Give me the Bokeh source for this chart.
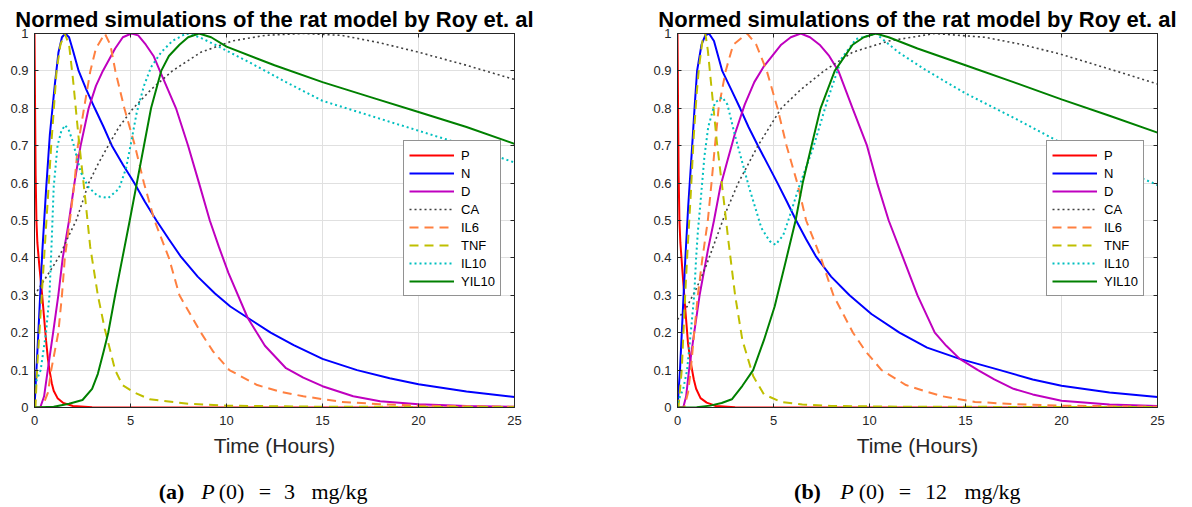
from bokeh.plotting import figure
from bokeh.models import Range1d, FixedTicker, LinearAxis, Legend, LegendItem
from bokeh.layouts import column, row
from bokeh.embed import file_html
from bokeh.resources import INLINE
from bokeh.core.properties import value

TITLE = "Normed simulations of the rat model by Roy et. al"
XLABEL = "Time (Hours)"
SERIES = ["P", "N", "D", "CA", "IL6", "TNF", "IL10", "YIL10"]
X_TICKS = [0, 5, 10, 15, 20, 25]
Y_TICKS = [0, 0.1, 0.2, 0.3, 0.4, 0.5, 0.6, 0.7, 0.8, 0.9, 1]
Y_TICK_LABELS = ["0", "0.1", "0.2", "0.3", "0.4", "0.5", "0.6", "0.7", "0.8", "0.9", "1"]

# ---------- panel (a): P(0) = 3 mg/kg ----------
a_p_t = [0, 0.03, 0.06, 0.1, 0.15, 0.25, 0.4, 0.5, 0.6, 0.7, 0.78, 0.9, 1.0, 1.2, 1.5, 2.0, 3.0, 5.0, 25]
a_p_v = [1, 0.8, 0.62, 0.5, 0.44, 0.38, 0.3, 0.24, 0.18, 0.13, 0.1, 0.065, 0.045, 0.025, 0.012, 0.004, 0.001, 0.0, 0.0]

a_n_t = [0, 0.2, 0.41, 0.6, 0.8, 1.06, 1.25, 1.43, 1.6, 1.8, 2.0, 2.3, 2.7, 3.14, 3.6, 4.03, 4.6, 5.2, 5.75, 6.35,
         7.0, 7.6, 8.5, 9.4, 10.2, 11.1, 12.3, 13.5, 15, 16.8, 18.5, 20, 22.5, 25]
a_n_v = [0, 0.2, 0.42, 0.58, 0.73, 0.864, 0.95, 0.99, 1.0, 0.99, 0.955, 0.9, 0.85, 0.8, 0.75, 0.7, 0.65, 0.6, 0.55, 0.5,
         0.45, 0.405, 0.35, 0.305, 0.27, 0.24, 0.2, 0.167, 0.13, 0.1, 0.078, 0.062, 0.043, 0.028]

a_d_t = [0, 0.3, 0.5, 0.69, 0.97, 1.24, 1.47, 1.8, 2.08, 2.4, 2.82, 3.2, 3.56, 4.2, 4.6, 5.05, 5.4, 5.8, 6.2, 6.53,
         7.37, 8.0, 8.57, 9.13, 9.6, 10.1, 11.1, 12.0, 13.1, 14.0, 15, 16.6, 18, 20, 22.5, 25]
a_d_v = [0, 0, 0.03, 0.1, 0.2, 0.3, 0.4, 0.5, 0.6, 0.7, 0.8, 0.86, 0.9, 0.96, 0.99, 1.0, 0.995, 0.97, 0.94, 0.9,
         0.8, 0.7, 0.6, 0.5, 0.43, 0.36, 0.24, 0.165, 0.105, 0.08, 0.057, 0.03, 0.017, 0.009, 0.004, 0.002]

a_ca_t = [0, 0.25, 0.5, 1.0, 1.35, 1.7, 2.17, 2.5, 2.82, 3.3, 3.84, 4.4, 5.14, 6.07, 7.18, 8.67, 10.3, 12, 14, 16, 18, 20, 22.5, 25]
a_ca_v = [0.3, 0.32, 0.34, 0.38, 0.41, 0.45, 0.5, 0.55, 0.6, 0.65, 0.7, 0.75, 0.8, 0.85, 0.9, 0.95, 0.98, 0.995, 1.0, 0.995, 0.975, 0.95, 0.915, 0.877]

a_il6_t = [0, 0.4, 0.7, 0.87, 1.24, 1.43, 1.58, 1.84, 2.08, 2.26, 2.58, 2.91, 3.2, 3.66, 3.95, 4.21, 4.68, 5.23, 5.7, 6.25,
           7.0, 7.55, 8.67, 9.3, 10.15, 11.6, 12.8, 14, 16, 18, 20, 25]
a_il6_v = [0, 0, 0.04, 0.1, 0.2, 0.3, 0.4, 0.5, 0.6, 0.7, 0.8, 0.9, 0.96, 1.0, 0.97, 0.9, 0.8, 0.7, 0.6, 0.5,
           0.4, 0.3, 0.2, 0.15, 0.1, 0.06, 0.042, 0.03, 0.015, 0.009, 0.005, 0.002]

a_tnf_t = [0, 0.05, 0.13, 0.5, 0.87, 1.15, 1.35, 1.58, 1.8, 2.0, 2.3, 2.64, 2.9, 3.3, 3.66, 4.2, 4.58, 5.2, 6.0, 8, 10, 15, 25]
a_tnf_v = [0, 0, 0.1, 0.4, 0.7, 0.9, 0.97, 1.0, 0.97, 0.88, 0.72, 0.56, 0.43, 0.3, 0.21, 0.1, 0.06, 0.04, 0.022, 0.01, 0.005, 0.002, 0.001]

a_il10_t = [0, 0.32, 0.6, 0.78, 0.9, 1.0, 1.2, 1.4, 1.6, 1.8, 2.0, 2.4, 2.8, 3.3, 3.84, 4.4, 4.77, 5.0, 5.33, 5.7,
            6.07, 6.6, 7.18, 7.9, 8.6, 9.4, 11.3, 13.1, 15, 17.5, 20, 22.5, 25]
a_il10_v = [0.058, 0.1, 0.2, 0.3, 0.45, 0.59, 0.7, 0.74, 0.755, 0.74, 0.71, 0.63, 0.59, 0.565, 0.56, 0.585, 0.64, 0.7, 0.79, 0.86,
            0.91, 0.95, 0.98, 1.0, 0.99, 0.97, 0.92, 0.87, 0.82, 0.78, 0.74, 0.7, 0.655]

a_yil10_t = [0, 1.0, 1.8, 2.5, 3.0, 3.3, 3.6, 3.84, 4.2, 4.58, 4.96, 5.33, 5.7, 6.07, 6.6, 7.0, 7.55, 8.0, 8.57, 9.2,
             10, 12.5, 15, 17.5, 20, 22.5, 25]
a_yil10_v = [0, 0.002, 0.01, 0.02, 0.05, 0.09, 0.15, 0.2, 0.3, 0.4, 0.5, 0.6, 0.7, 0.8, 0.9, 0.94, 0.97, 0.99, 1.0, 0.99,
             0.965, 0.915, 0.87, 0.83, 0.79, 0.75, 0.705]

# ---------- panel (b): P(0) = 12 mg/kg ----------
b_p_t = [0, 0.03, 0.06, 0.1, 0.15, 0.25, 0.41, 0.55, 0.69, 0.85, 0.97, 1.2, 1.52, 2.0, 3.0, 5.0, 25]
b_p_v = [1, 0.8, 0.62, 0.5, 0.44, 0.37, 0.26, 0.17, 0.12, 0.075, 0.05, 0.025, 0.013, 0.004, 0.001, 0.0, 0.0]

b_n_t = [0, 0.13, 0.41, 0.56, 0.74, 0.9, 1.02, 1.25, 1.45, 1.64, 1.9, 2.33, 2.8, 3.26, 3.7, 4.19, 4.7, 5.21, 5.7, 6.18,
         6.7, 7.2, 8.0, 8.96, 10.1, 11.56, 13, 14.7, 16.8, 18.5, 20, 22.5, 25]
b_n_v = [0, 0.1, 0.4, 0.54, 0.68, 0.81, 0.9, 0.97, 0.995, 1.0, 0.98, 0.9, 0.85, 0.8, 0.75, 0.7, 0.65, 0.6, 0.55, 0.5,
         0.45, 0.405, 0.35, 0.3, 0.25, 0.2, 0.16, 0.13, 0.1, 0.075, 0.058, 0.04, 0.028]

b_d_t = [0, 0.3, 0.45, 0.6, 0.87, 1.15, 1.58, 1.9, 2.23, 2.6, 2.98, 3.5, 4.0, 4.47, 5.4, 5.9, 6.42, 6.9, 7.4, 7.9,
         8.38, 9.12, 9.87, 10.4, 11.0, 11.75, 12.5, 13.4, 14.0, 14.7, 15.65, 16.5, 17.5, 18.5, 20, 22.5, 25]
b_d_v = [0, 0, 0.03, 0.1, 0.2, 0.3, 0.42, 0.5, 0.59, 0.66, 0.73, 0.81, 0.87, 0.91, 0.97, 0.99, 1.0, 0.99, 0.97, 0.94,
         0.9, 0.8, 0.7, 0.6, 0.5, 0.4, 0.3, 0.2, 0.165, 0.13, 0.1, 0.075, 0.05, 0.035, 0.018, 0.008, 0.004]

b_ca_t = [0, 0.5, 1.0, 1.5, 2.0, 2.5, 3.16, 4.19, 5.4, 6.42, 7.63, 9.12, 11.0, 13.4, 16, 18, 20, 22.5, 25]
b_ca_v = [0.235, 0.27, 0.32, 0.38, 0.45, 0.52, 0.6, 0.7, 0.8, 0.85, 0.9, 0.95, 0.98, 1.0, 0.99, 0.97, 0.944, 0.905, 0.865]

b_il6_t = [0, 0.35, 0.55, 0.69, 0.87, 1.06, 1.3, 1.58, 1.77, 1.95, 2.14, 2.51, 2.9, 3.63, 4.1, 4.65, 5.21, 5.68, 6.24, 6.7,
           7.47, 8.12, 9.14, 9.8, 10.63, 11.9, 12.8, 13.8, 15.5, 17.5, 20, 25]
b_il6_v = [0, 0, 0.04, 0.1, 0.2, 0.3, 0.4, 0.5, 0.6, 0.7, 0.8, 0.9, 0.97, 1.0, 0.97, 0.9, 0.8, 0.7, 0.6, 0.5,
           0.4, 0.3, 0.2, 0.15, 0.1, 0.06, 0.045, 0.03, 0.015, 0.009, 0.005, 0.002]

b_tnf_t = [0, 0.05, 0.22, 0.4, 0.5, 0.69, 0.84, 1.0, 1.12, 1.3, 1.45, 1.58, 1.77, 2.05, 2.42, 2.64, 3.0, 3.38, 3.94, 4.5,
           5.4, 6.5, 8, 12, 25]
b_tnf_v = [0, 0, 0.1, 0.3, 0.4, 0.57, 0.72, 0.84, 0.91, 0.98, 1.0, 0.955, 0.855, 0.71, 0.55, 0.45, 0.3, 0.18, 0.084, 0.035,
           0.015, 0.008, 0.004, 0.002, 0.001]

b_il10_t = [0, 0.3, 0.5, 0.69, 0.87, 0.97, 1.06, 1.2, 1.4, 1.6, 1.95, 2.33, 2.6, 2.98, 3.35, 3.72, 4.37, 4.8, 5.1, 5.5,
            5.77, 6.33, 7.07, 7.8, 8.56, 9.3, 10.33, 11.5, 13.0, 15, 17.5, 20, 22.5, 25]
b_il10_v = [0.013, 0.05, 0.1, 0.2, 0.3, 0.4, 0.47, 0.55, 0.67, 0.75, 0.815, 0.83, 0.81, 0.73, 0.66, 0.59, 0.48, 0.445, 0.435, 0.46,
            0.5, 0.59, 0.695, 0.82, 0.935, 0.985, 1.0, 0.95, 0.9, 0.84, 0.775, 0.707, 0.65, 0.595]

b_yil10_t = [0, 1.0, 1.7, 2.3, 2.83, 3.38, 3.94, 4.5, 5.06, 5.61, 6.15, 6.52, 6.98, 7.45, 8.19, 9.12, 9.7, 10.33, 11.0,
             12.5, 15, 17.5, 20, 22.5, 25]
b_yil10_v = [0, 0.001, 0.005, 0.012, 0.022, 0.058, 0.1, 0.18, 0.27, 0.385, 0.5, 0.6, 0.7, 0.8, 0.9, 0.97, 0.99, 1.0, 0.99,
             0.96, 0.915, 0.87, 0.824, 0.78, 0.735]

PANEL_A = [(a_p_t, a_p_v), (a_n_t, a_n_v), (a_d_t, a_d_v), (a_ca_t, a_ca_v),
           (a_il6_t, a_il6_v), (a_tnf_t, a_tnf_v), (a_il10_t, a_il10_v), (a_yil10_t, a_yil10_v)]
PANEL_B = [(b_p_t, b_p_v), (b_n_t, b_n_v), (b_d_t, b_d_v), (b_ca_t, b_ca_v),
           (b_il6_t, b_il6_v), (b_tnf_t, b_tnf_v), (b_il10_t, b_il10_v), (b_yil10_t, b_yil10_v)]

# styles
COLORS = ["#FF0000", "#0000FF", "#BF00BF", "#404040", "#FF8040", "#BFBF00", "#00BFBF", "#008000"]
DASHES = ["solid", "solid", "solid", "2 3", "9 6", "9 6", "2 3", "solid"]
WIDTHS = [2, 2, 2, 1.6, 2, 2, 2, 2]

SANS = "Liberation Sans"
SERIF = "Liberation Serif"
AXC = "#262626"


def make_panel(data, border_left, border_right):
    p = figure(frame_width=480, frame_height=374,
               x_range=Range1d(0, 25), y_range=Range1d(0, 1),
               output_backend="svg", toolbar_location=None,
               min_border_left=border_left, min_border_right=border_right,
               min_border_top=33, min_border_bottom=60,
               background_fill_color="white", border_fill_color="white")
    p.title.text = TITLE
    p.title.align = "center"
    p.title.text_font = SANS
    p.title.text_font_size = "22px"
    p.title.text_font_style = "bold"
    p.title.text_color = "black"
    p.title.standoff = 4

    p.outline_line_color = AXC
    p.outline_line_width = 1

    p.xaxis.ticker = FixedTicker(ticks=X_TICKS)
    p.yaxis.ticker = FixedTicker(ticks=Y_TICKS)
    p.yaxis.major_label_overrides = {t: s for t, s in zip(Y_TICKS, Y_TICK_LABELS)}
    for ax in (p.xaxis[0], p.yaxis[0]):
        ax.major_tick_in = 4
        ax.major_tick_out = 0
        ax.minor_tick_line_color = None
        ax.axis_line_color = AXC
        ax.major_tick_line_color = AXC
        ax.major_label_text_font = SANS
        ax.major_label_text_font_size = "13px"
        ax.major_label_text_color = AXC
    p.xaxis.major_label_standoff = 8
    p.yaxis.major_label_standoff = 6
    p.xaxis.axis_label = XLABEL
    p.xaxis.axis_label_text_font = SANS
    p.xaxis.axis_label_text_font_size = "21px"
    p.xaxis.axis_label_text_font_style = "normal"
    p.xaxis.axis_label_text_color = AXC
    p.xaxis.axis_label_standoff = 6

    # box ticks on the top and right edges (no labels drawn there)
    top = LinearAxis(ticker=FixedTicker(ticks=X_TICKS), major_tick_in=4, major_tick_out=0,
                     minor_tick_line_color=None, axis_line_color=AXC, major_tick_line_color=AXC,
                     major_label_text_font_size="6px", major_label_text_color=None,
                     major_label_standoff=0)
    right = LinearAxis(ticker=FixedTicker(ticks=Y_TICKS), major_tick_in=4, major_tick_out=0,
                       minor_tick_line_color=None, axis_line_color=AXC, major_tick_line_color=AXC,
                       major_label_text_font_size="6px", major_label_text_color=None,
                       major_label_standoff=0)
    p.add_layout(top, "above")
    p.add_layout(right, "right")

    p.xgrid.ticker = FixedTicker(ticks=X_TICKS)
    p.ygrid.ticker = FixedTicker(ticks=Y_TICKS)
    p.xgrid.grid_line_color = "#E0E0E0"
    p.ygrid.grid_line_color = "#E0E0E0"

    items = []
    for name, (t, v), c, d, w in zip(SERIES, data, COLORS, DASHES, WIDTHS):
        r = p.line(t, v, line_color=c, line_width=w, line_dash=d)
        items.append(LegendItem(label=name, renderers=[r]))

    leg = Legend(items=items, location=(369, 111), orientation="vertical",
                 glyph_width=45, glyph_height=18, label_height=18, spacing=0,
                 padding=5, margin=0, label_standoff=7,
                 label_text_font=SANS, label_text_font_size="13px", label_text_color="black",
                 border_line_color=AXC, border_line_width=1,
                 background_fill_color="white", background_fill_alpha=1)
    p.add_layout(leg)
    return p


pa = make_panel(PANEL_A, 34, 82)
pb = make_panel(PANEL_B, 81, 35)

# captions
CAP_A = ["(a)", "P", "(0)", "=", "3", "mg/kg"]
CAP_B = ["(b)", "P", "(0)", "=", "12", "mg/kg"]
CAP_STYLE = ["bold", "italic", "normal", "normal", "normal", "normal"]
CAP_A_X = [171, 207.5, 231, 264.5, 289, 339]
CAP_B_X = [807, 846.5, 871, 904.5, 935.5, 992]

cap = figure(width=1192, height=40, x_range=Range1d(0, 1192), y_range=Range1d(0, 40),
             output_backend="svg", toolbar_location=None,
             min_border=0, min_border_left=0, min_border_right=0, min_border_top=0, min_border_bottom=0)
cap.axis.visible = False
cap.grid.visible = False
cap.outline_line_color = None
for texts, xs in ((CAP_A, CAP_A_X), (CAP_B, CAP_B_X)):
    for s, x, st in zip(texts, xs, CAP_STYLE):
        cap.text(x=[x], y=[16], text=[s], text_align="center", text_baseline="middle",
                 text_font=value(SERIF), text_font_size="22px", text_font_style=st,
                 text_color="black")

layout = column(row(pa, pb), cap)
open("out.html", "w").write(file_html(layout, INLINE))
